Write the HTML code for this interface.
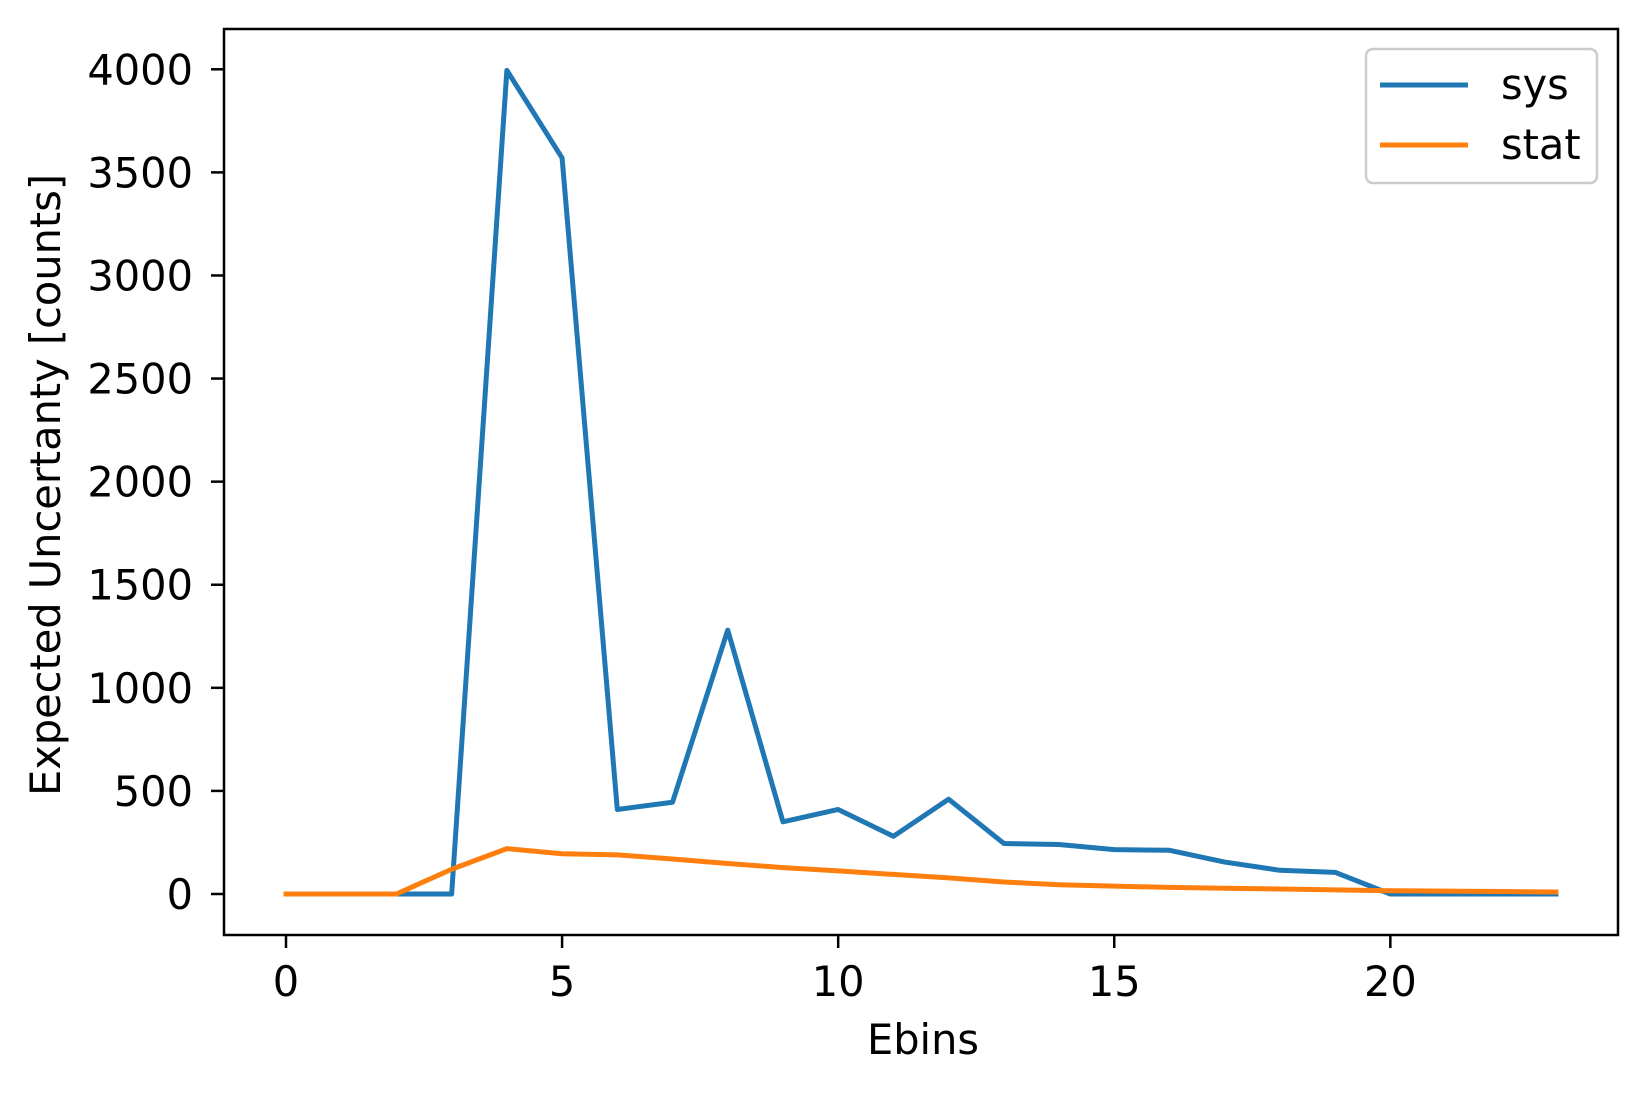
<!DOCTYPE html>
<html><head><meta charset="utf-8"><style>
html,body{margin:0;padding:0;background:#fff;}
svg text{font-family:"DejaVu Sans","Liberation Sans",sans-serif;fill:#000;}
</style></head><body>
<svg id="chart" width="1646" height="1091" xmlns="http://www.w3.org/2000/svg"></svg>
<script>
const xCats=[0,1,2,3,4,5,6,7,8,9,10,11,12,13,14,15,16,17,18,19,20,21,22,23];
const sysValues=[0,0,0,0,3995,3570,410,445,1280,350,410,280,460,245,240,215,212,155,115,105,0,0,0,0];
const statValues=[0,0,0,120,220,195,190,170,148,128,112,95,78,58,45,38,32,28,24,20,16,14,12,10];
const xTicks=[0,5,10,15,20];
const yTicks=[0,500,1000,1500,2000,2500,3000,3500,4000];
const NS="http://www.w3.org/2000/svg";
const svg=document.getElementById('chart');
const L=224,R=1618,T=29,B=935;
const fx=v=>286+v*(1556-286)/23;
const fy=v=>894-v*(894-69.3)/4000;
function mk(t,a,p){const e=document.createElementNS(NS,t);for(const k in a)e.setAttribute(k,a[k]);(p||svg).appendChild(e);return e;}
const fs=41.5;
xTicks.forEach(v=>{
  const g=mk('g',{});
  
  
  mk('line',{x1:fx(v),x2:fx(v),y1:B,y2:B+13,stroke:'#000','stroke-width':2.5},g);
  const t=mk('text',{x:fx(v),y:B+61,'text-anchor':'middle','font-size':fs},g);t.textContent=v;
});
yTicks.forEach(v=>{
  const g=mk('g',{});
  
  
  mk('line',{x1:L,x2:L-13,y1:fy(v),y2:fy(v),stroke:'#000','stroke-width':2.5},g);
  const t=mk('text',{x:L-31,y:fy(v)+15,'text-anchor':'end','font-size':fs},g);t.textContent=v;
});
function series(vals,color,name){
  const p=mk('polyline',{points:vals.map((v,i)=>fx(xCats[i])+','+fy(v)).join(' '),fill:'none',stroke:color,'stroke-width':5,'stroke-linejoin':'round','stroke-linecap':'square'});
  
  
}
series(sysValues,'#1f77b4','sys-line');
series(statValues,'#ff7f0e','stat-line');
const fr=mk('rect',{x:L,y:T,width:R-L,height:B-T,fill:'none',stroke:'#000','stroke-width':2.5});


const xl=mk('text',{x:923,y:1054,'text-anchor':'middle','font-size':fs});xl.textContent='Ebins';


const yl=mk('text',{x:0,y:0,'text-anchor':'middle','font-size':fs,transform:'translate(60,485) rotate(-90)'});yl.textContent='Expected Uncertanty [counts]';


const lg=mk('g',{});


mk('rect',{x:1366,y:49,width:231,height:134,rx:7,fill:'#fff',stroke:'#ccc','stroke-width':2.5},lg);
[['sys','#1f77b4',85],['stat','#ff7f0e',145]].forEach(([n,c,y])=>{
  const e=mk('g',{},lg);
  
  
  mk('line',{x1:1380,x2:1468,y1:y,y2:y,stroke:c,'stroke-width':5},e);
  const t=mk('text',{x:1501,y:y+14,'font-size':fs},e);t.textContent=n;
});
</script>
</body></html>
